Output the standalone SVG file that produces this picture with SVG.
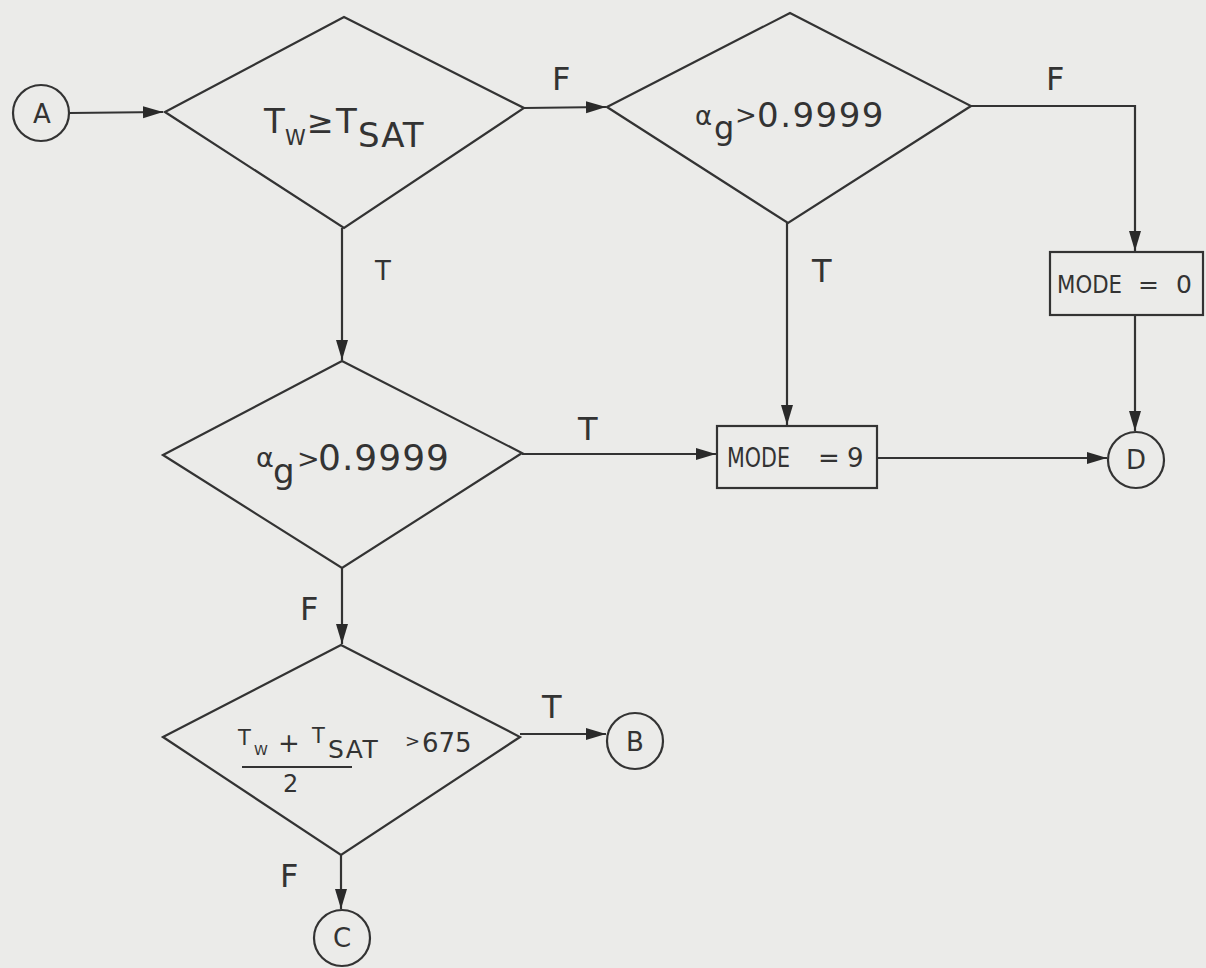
<svg xmlns="http://www.w3.org/2000/svg" width="1206" height="968" viewBox="0 0 1206 968">
<defs>
<style>
.shape{fill:none;stroke:#333;stroke-width:2.2}
.conn{fill:none;stroke:#333;stroke-width:2.2}
text{font-family:"DejaVu Sans","Liberation Sans",sans-serif;fill:#333}
.lbl{font-size:32px}
.circ{font-size:26px;text-anchor:middle}
</style>
<marker id="ah" markerWidth="22" markerHeight="14" refX="20" refY="7" orient="auto" markerUnits="userSpaceOnUse">
<path d="M0,1 L20,7 L0,13 Z" fill="#2a2a2a"/>
</marker>
</defs>
<rect width="1206" height="968" fill="#ebebe9"/>

<g id="connectors">
<line class="conn" x1="70" y1="113" x2="163" y2="112" marker-end="url(#ah)"/>
<line class="conn" x1="524" y1="108" x2="606" y2="107" marker-end="url(#ah)"/>
<polyline class="conn" points="971,106 1135,106 1135,251" marker-end="url(#ah)"/>
<line class="conn" x1="787" y1="223" x2="787" y2="425" marker-end="url(#ah)"/>
<line class="conn" x1="342" y1="228" x2="342" y2="360" marker-end="url(#ah)"/>
<line class="conn" x1="522" y1="454" x2="716" y2="454" marker-end="url(#ah)"/>
<line class="conn" x1="877" y1="458" x2="1107" y2="458" marker-end="url(#ah)"/>
<line class="conn" x1="1135" y1="315" x2="1135" y2="431" marker-end="url(#ah)"/>
<line class="conn" x1="342" y1="568" x2="342" y2="644" marker-end="url(#ah)"/>
<line class="conn" x1="520" y1="734" x2="606" y2="734" marker-end="url(#ah)"/>
<line class="conn" x1="341" y1="855" x2="341" y2="909" marker-end="url(#ah)"/>
<text class="lbl" x="552" y="90" font-size="34">F</text>
<text class="lbl" x="1046" y="90" font-size="34">F</text>
<text x="375" y="280" font-size="26">T</text>
<text class="lbl" x="812" y="282">T</text>
<text class="lbl" x="578" y="440">T</text>
<text class="lbl" x="300" y="620">F</text>
<text class="lbl" x="542" y="718">T</text>
<text class="lbl" x="280" y="887" font-size="34">F</text>
</g>

<g id="nodeA">
<circle class="shape" cx="41" cy="113" r="28"/>
<text class="circ" x="42" y="123">A</text>
</g>

<g id="decision1">
<polygon class="shape" points="165,112 344,17 524,108 344,228"/>
<text x="264" y="133" font-size="34">T</text>
<text x="285" y="145" font-size="21">W</text>
<text x="307" y="133" font-size="32">≥</text>
<text x="336" y="133" font-size="34">T</text>
<text x="358" y="147" font-size="34" letter-spacing="1">SAT</text>
</g>

<g id="decision2">
<polygon class="shape" points="607,107 790,13 971,106 788,223"/>
<text x="695" y="125" font-size="26">α</text>
<text x="714" y="139" font-size="32">g</text>
<text x="735" y="124" font-size="26">&gt;</text>
<text x="757" y="127" font-size="34" letter-spacing="1.5">0.9999</text>
</g>

<g id="mode0">
<rect class="shape" x="1050" y="252" width="153" height="63"/>
<text x="1057" y="293" font-size="25" textLength="65" lengthAdjust="spacingAndGlyphs">MODE</text>
<text x="1138" y="293" font-size="25">=</text>
<text x="1176" y="293" font-size="25">0</text>
</g>

<g id="decision3">
<polygon class="shape" points="163,455 342,361 522,453 342,568"/>
<text x="256" y="467" font-size="27">α</text>
<text x="273" y="483" font-size="34">g</text>
<text x="297" y="468" font-size="27">&gt;</text>
<text x="318" y="470" font-size="36" letter-spacing="1">0.9999</text>
</g>

<g id="mode9">
<rect class="shape" x="717" y="426" width="160" height="62"/>
<text x="727" y="467" font-size="26" textLength="63" lengthAdjust="spacingAndGlyphs">MODE</text>
<text x="818" y="467" font-size="26">=</text>
<text x="847" y="467" font-size="26">9</text>
</g>

<g id="nodeD">
<circle class="shape" cx="1136" cy="460" r="28"/>
<text class="circ" x="1136" y="469">D</text>
</g>

<g id="decision4">
<polygon class="shape" points="163,737 341,645 520,737 341,855"/>
<text x="238" y="745" font-size="21">T</text>
<text x="254" y="755" font-size="14">W</text>
<text x="278" y="752" font-size="26">+</text>
<text x="312" y="743" font-size="21">T</text>
<text x="328" y="758" font-size="25" letter-spacing="1.5">SAT</text>
<text x="405" y="747" font-size="18">&gt;</text>
<text x="422" y="752" font-size="26">675</text>
<line class="shape" x1="242" y1="767" x2="352" y2="767"/>
<text x="283" y="792" font-size="24">2</text>
</g>

<g id="nodeB">
<circle class="shape" cx="635" cy="741" r="28"/>
<text class="circ" x="635" y="751">B</text>
</g>

<g id="nodeC">
<circle class="shape" cx="342" cy="938" r="28"/>
<text class="circ" x="342" y="947">C</text>
</g>
</svg>
